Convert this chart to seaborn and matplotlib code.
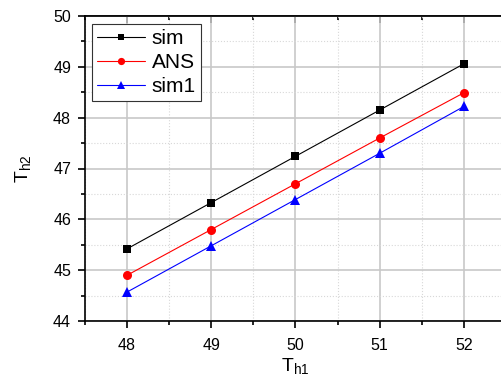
import matplotlib
matplotlib.use("Agg")
import matplotlib.pyplot as plt
import seaborn as sns
import pandas as pd
from matplotlib.ticker import MultipleLocator, NullFormatter

th1 = [48, 49, 50, 51, 52]
sim = [45.42, 46.33, 47.24, 48.15, 49.06]
ans = [44.90, 45.80, 46.70, 47.60, 48.49]
sim1 = [44.57, 45.48, 46.39, 47.30, 48.22]
series_names = ["sim", "ANS", "sim1"]

sns.set_style("white")
plt.rcParams['font.family'] = ['Liberation Sans', 'DejaVu Sans']
plt.rcParams['text.color'] = 'black'
plt.rcParams['axes.labelcolor'] = 'black'
plt.rcParams['xtick.color'] = 'black'
plt.rcParams['ytick.color'] = 'black'

df = pd.DataFrame({
    "Th1": th1 * 3,
    "Th2": sim + ans + sim1,
    "series": [series_names[0]] * 5 + [series_names[1]] * 5 + [series_names[2]] * 5,
})

fig = plt.figure(figsize=(5.02, 3.79), dpi=100)
ax = fig.add_axes([85 / 502, 58 / 379, 421 / 502, 305 / 379])

styles = {"sim": ("black", "s", 6), "ANS": ("red", "o", 6.5), "sim1": ("blue", "^", 7.5)}
for name in series_names:
    c, m, ms = styles[name]
    sns.lineplot(data=df[df.series == name], x="Th1", y="Th2", ax=ax, color=c,
                 marker=m, markersize=ms, markeredgewidth=0, linewidth=0.8,
                 label=name, zorder=3)

ax.set_xlim(47.5, 52.5)
ax.set_ylim(44, 50)
ax.xaxis.set_major_locator(MultipleLocator(1))
ax.xaxis.set_minor_locator(MultipleLocator(0.5))
ax.yaxis.set_major_locator(MultipleLocator(1))
ax.yaxis.set_minor_locator(MultipleLocator(0.5))

ax.grid(which="major", color="#c8c8c8", linewidth=1.2, linestyle="-")
ax.grid(which="minor", color="#d8d8d8", linewidth=0.8, linestyle=":")
ax.set_axisbelow(True)

for s in ax.spines.values():
    s.set_color("black")
    s.set_linewidth(1.2)

ax.tick_params(which="both", direction="out", color="black", labelcolor="black", width=1.2,
               bottom=True, left=True, top=False, right=False, labelsize=11.5)
ax.tick_params(which="major", length=5)
ax.tick_params(which="minor", length=3)
ax.tick_params(axis="x", which="major", pad=7)
ax.tick_params(axis="y", which="major", pad=5)

top = ax.secondary_xaxis("top")
top.xaxis.set_major_locator(MultipleLocator(1))
top.xaxis.set_minor_locator(MultipleLocator(0.5))
top.xaxis.set_major_formatter(NullFormatter())
top.tick_params(which="both", direction="in", color="black", width=1.2)
top.tick_params(which="major", length=5)
top.tick_params(which="minor", length=3)
top.spines["top"].set_linewidth(1.2)

ax.set_xlabel("T$_{\\mathregular{h1}}$", fontsize=14, labelpad=3, color="black")
ax.set_ylabel("T$_{\\mathregular{h2}}$", fontsize=14, labelpad=14, color="black")

leg = ax.legend(loc="upper left", bbox_to_anchor=(0.017, 0.975), fontsize=15,
                frameon=True, fancybox=False, edgecolor="#333333", framealpha=1,
                handlelength=2.3, handletextpad=0.3, borderpad=0.25, labelspacing=0.25,
                borderaxespad=0, markerscale=0.8)
leg.get_frame().set_linewidth(0.8)
for t in leg.get_texts():
    t.set_color("black")

fig.savefig("out.png", dpi=100)
